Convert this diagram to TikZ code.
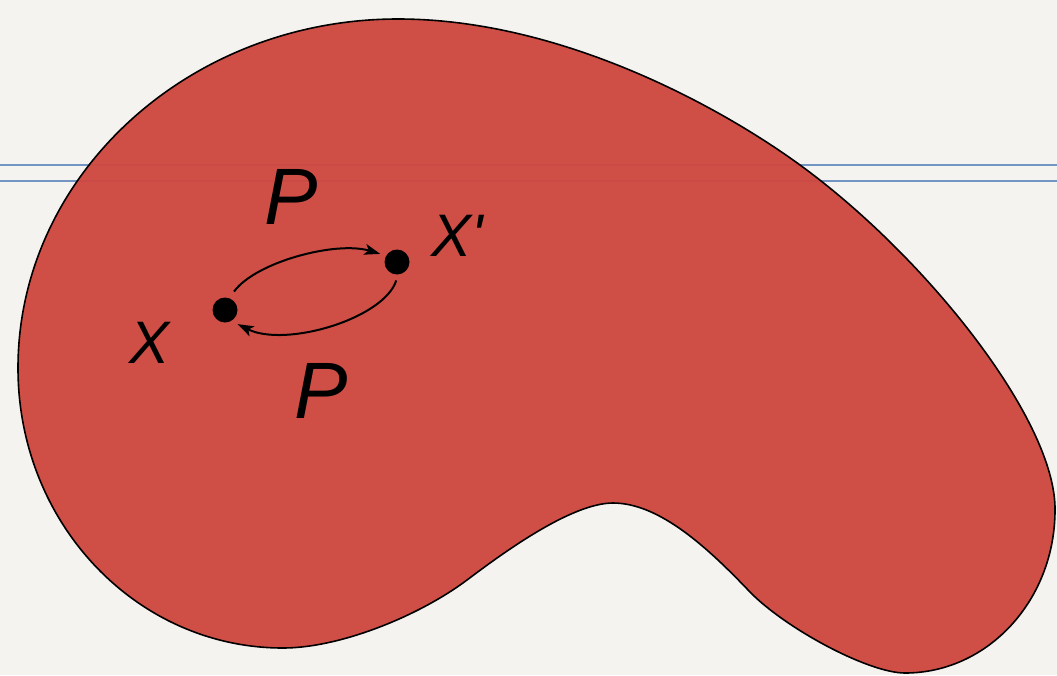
\documentclass[tikz,border=0pt]{standalone}
\usepackage{fontspec}
\newfontfamily\lab{Liberation Sans}
\usetikzlibrary{arrows.meta}
\definecolor{bg}{HTML}{F5F3EF}
\definecolor{blobred}{HTML}{CE4941}
\definecolor{rulecol}{HTML}{7494C4}
\begin{document}
\begin{tikzpicture}[x=1pt,y=-1pt,
  rulestyle/.style={draw=rulecol,line width=2pt},
  blobstyle/.style={fill=blobred,fill opacity=0.96,draw=black,line width=1.6pt},
  dot/.style={circle,fill=black,inner sep=0pt,minimum size=25pt},
  biglbl/.style={inner sep=0pt,font=\lab\itshape\fontsize{80}{80}\selectfont},
  smlbl/.style={inner sep=0pt,font=\lab\itshape\fontsize{60}{60}\selectfont},
  arr/.style={line width=2pt,-{Stealth[length=16pt,width=11pt,inset=4pt]}}]
\fill[bg] (0,0) rectangle (1057,675);
\useasboundingbox (0,0) rectangle (1057,675);
\coordinate (r1a) at (0,165); \coordinate (r1b) at (1057,165);
\coordinate (r2a) at (0,181); \coordinate (r2b) at (1057,181);
\draw[rulestyle] (r1a) -- (r1b);
\draw[rulestyle] (r2a) -- (r2b);
\draw[blobstyle]
  (18,368) .. controls (18,176) and (188,19) .. (398,19)
  .. controls (560,19) and (719,106) .. (800,165)
  .. controls (925,256) and (1056,420) .. (1055,510)
  .. controls (1055,600) and (988,673) .. (905,673)
  .. controls (868,673) and (785,628) .. (750,592)
  .. controls (709,549) and (660,503) .. (613,503)
  .. controls (570,503) and (499,556) .. (467,580)
  .. controls (419,616) and (340,648) .. (283,648)
  .. controls (137,648) and (18,524) .. (18,368) -- cycle;
\node[dot] (x) at (225,310) {};
\node[dot] (xp) at (397,262) {};
\node[biglbl] (ptop) at (291,197) {P};
\node[biglbl] (pbot) at (321,391) {P};
\node[smlbl] (xl) at (150,343) {X};
\node[smlbl] (xpl) at (457,236) {X\symbol{39}};
\draw[arr,shorten <=8pt,shorten >=6pt] (x.70) .. controls +(26,-36) and +(-50,-15) .. (xp.150);
\draw[arr,shorten <=6pt,shorten >=7pt] (xp.-85) .. controls +(-14,44) and +(54,27) .. (x.-60);
\end{tikzpicture}
\end{document}
